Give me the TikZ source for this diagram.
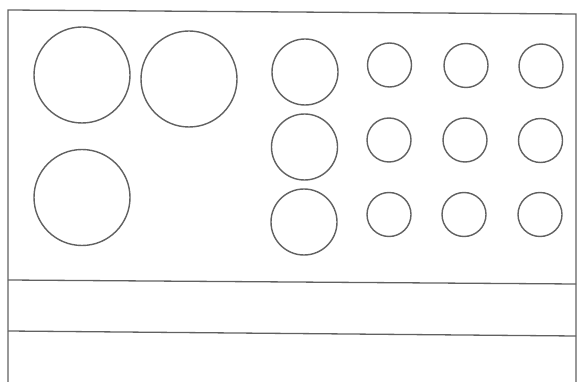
\documentclass[tikz,border=0pt]{standalone}
\begin{document}
\begin{tikzpicture}[x=1pt,y=-1pt,
  frameline/.style={draw=black!62, line width=1.3pt},
  hole/.style={circle, draw=black!62, line width=1.4pt, inner sep=0pt},
  big/.style={hole, minimum size=96pt},
  mid/.style={hole, minimum size=66pt},
  small/.style={hole, minimum size=44pt}]
\useasboundingbox (0,0) rectangle (578,382);
\fill[white] (0,0) rectangle (578,382);
% frame
\coordinate (tl) at (8,10);
\coordinate (tr) at (576,14);
\coordinate (bl) at (8,382);
\coordinate (br) at (576,382);
\coordinate (l1) at (8,280);
\coordinate (r1) at (576,284);
\coordinate (l2) at (8,331);
\coordinate (r2) at (576,336);
\draw[frameline] (bl) -- (tl) -- (tr) -- (br);
\draw[frameline] (l1) -- (r1);
\draw[frameline] (l2) -- (r2);
% big circles
\node[big] (b1) at (82,75) {};
\node[big] (b2) at (189,79) {};
\node[big] (b3) at (82,197.5) {};
% medium circles
\node[mid] (m1) at (305,72) {};
\node[mid] (m2) at (304.5,147) {};
\node[mid] (m3) at (304,222) {};
% small circles
\node[small] (s11) at (389.5,65) {};
\node[small] (s12) at (466,65.5) {};
\node[small] (s13) at (541,66) {};
\node[small] (s21) at (389,140) {};
\node[small] (s22) at (465,140) {};
\node[small] (s23) at (540.5,140.5) {};
\node[small] (s31) at (389,214.5) {};
\node[small] (s32) at (464,214.5) {};
\node[small] (s33) at (540,214.5) {};
\end{tikzpicture}
\end{document}
